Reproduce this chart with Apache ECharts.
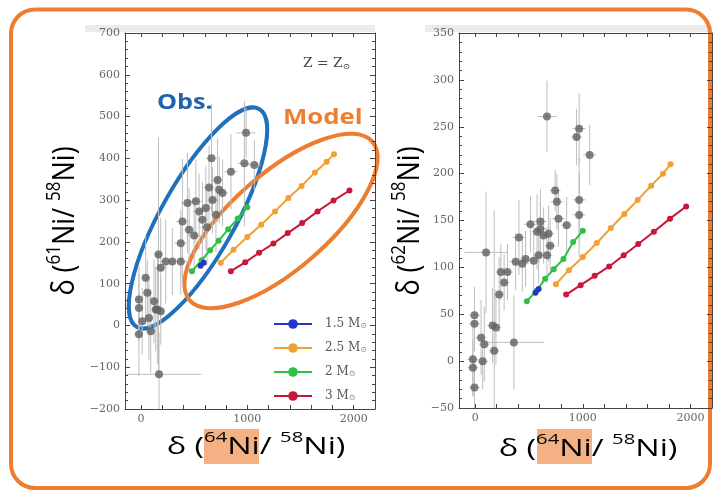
<!DOCTYPE html>
<html>
<head>
<meta charset="utf-8">
<script src="https://cdn.jsdelivr.net/npm/echarts@6/dist/echarts.min.js"></script>
<style>html,body{margin:0;padding:0;background:#fff;}#c,#f{width:718px;height:491px;position:absolute;left:0;top:0;}#f{pointer-events:none;}</style>
</head>
<body>
<div id="c"></div>
<div id="f"></div>
<script>
// ---- tick labels ----
const xLabelVals = [0, 1000, 2000];
const xTickVals = [0, 200, 400, 600, 800, 1000, 1200, 1400, 1600, 1800, 2000];

// ---- model tracks (x = delta 64Ni/58Ni) ----
const m15X = [560, 590];
const m15Y61 = [143, 150];
const m15Y62 = [73, 77];

const m25X = [750, 870, 1000, 1130, 1260, 1385, 1510, 1635, 1745, 1815];
const m25Y61 = [150, 181, 212, 241, 273, 305, 334, 366, 392, 410];
const m25Y62 = [82, 97, 111, 126, 142, 157, 172, 187, 200, 210];

const m2X = [480, 570, 650, 730, 820, 910, 1000];
const m2Y61 = [130, 156, 180, 203, 230, 256, 283];
const m2Y62 = [64, 75, 88, 98, 109, 127, 139];

const m3X = [845, 980, 1110, 1245, 1380, 1515, 1660, 1810, 1960];
const m3Y61 = [130, 151, 174, 196, 221, 245, 273, 299, 323];
const m3Y62 = [71, 81, 91, 101, 113, 125, 138, 152, 165];

// ---- observations: left panel (61Ni) ----
const obsX61  = [988, 972, 1066, 846, 663, 720, 736, 673, 767, 516, 437, 547, 610, 578, 390, 453, 374, 500, 620, 186, 233, 295, 374, 44, 60, -19, -19, 123, 139, 75, 186, 12, -19, 92, 170, 154, 165, 705, 640];
const obsY61  = [461, 388, 384, 368, 400, 348, 325, 300, 317, 297, 293, 273, 281, 253, 249, 229, 197, 215, 235, 138, 153, 153, 153, 114, 78, 62, 42, 58, 38, 18, 34, 10, -21, -14, -117, 38, 170, 265, 330];
const obsXE61 = [90, 60, 60, 60, 50, 50, 50, 60, 50, 60, 60, 60, 50, 50, 60, 50, 60, 60, 60, 60, 60, 60, 60, 40, 40, 40, 40, 40, 40, 40, 40, 40, 40, 40, 400, 40, 40, 50, 50];
const obsYE61 = [60, 150, 60, 90, 130, 100, 80, 80, 80, 100, 120, 90, 100, 90, 150, 100, 80, 90, 90, 120, 100, 80, 80, 100, 80, 80, 80, 100, 100, 100, 80, 80, 100, 100, 100, 130, 280, 90, 100];

// ---- observations: right panel (62Ni) ----
const obsX62  = [667, 966, 942, 1064, 743, 759, 966, 966, 774, 850, 606, 514, 606, 575, 682, 407, 636, 697, 544, 590, 667, 468, 438, 376, 101, 239, 300, 269, 223, -6, -6, 162, 193, 55, 85, 177, 360, -21, -21, 70, -6];
const obsY62  = [261, 248, 239, 220, 182, 170, 172, 156, 152, 145, 149, 146, 141, 138, 136, 132, 134, 123, 107, 113, 113, 109, 104, 106, 116, 95, 95, 84, 71, 49, 40, 38, 36, 25, 18, 11, 20, 2, -7, 0, -28];
const obsXE62 = [90, 60, 50, 60, 50, 60, 60, 60, 60, 50, 60, 60, 60, 50, 50, 60, 50, 50, 60, 50, 50, 60, 60, 60, 200, 50, 50, 50, 50, 50, 50, 50, 50, 50, 50, 50, 280, 50, 50, 50, 50];
const obsYE62 = [38, 38, 30, 32, 22, 30, 45, 45, 30, 30, 35, 30, 30, 40, 30, 40, 30, 30, 30, 30, 30, 30, 30, 30, 65, 30, 30, 30, 40, 30, 30, 40, 40, 40, 40, 150, 50, 40, 30, 30, 30];

function zip(a, b) { return a.map((v, i) => [v, b[i]]); }
function rows(x, y, xe, ye) { return x.map((v, i) => [v, y[i], xe[i], ye[i]]); }

const COL = { m15: '#2436c8', m25: '#f0a035', m2: '#30c048', m3: '#c8173a' };
const axisCol = '#444';
const gridsOpt = [
  { left: 125, top: 33, width: 250, height: 376 },
  { left: 459, top: 33, width: 253, height: 375 }
];

function errRender(params, api) {
  const x = api.value(0), y = api.value(1), ex = api.value(2), ey = api.value(3);
  const l = api.coord([x - ex, y]), r = api.coord([x + ex, y]);
  const t = api.coord([x, y + ey]), b = api.coord([x, y - ey]);
  const st = { stroke: '#bdbdbd', lineWidth: 1 };
  return { type: 'group', children: [
    { type: 'line', shape: { x1: l[0], y1: l[1], x2: r[0], y2: r[1] }, style: st },
    { type: 'line', shape: { x1: t[0], y1: t[1], x2: b[0], y2: b[1] }, style: st }
  ]};
}

// ---- main chart axes: labels only ----
function xAxMain(grid, pos) {
  return {
    gridIndex: grid, type: 'value', min: -150, max: 2200, position: pos,
    axisLine: { show: false, onZero: false }, axisTick: { show: false },
    axisLabel: pos === 'bottom' ? { show: true, customValues: xLabelVals, margin: 5, fontFamily: 'DejaVu Serif', fontSize: 11, color: '#666',
      formatter: function (v) { return String(v); } } : { show: false },
    splitLine: { show: false }
  };
}
function yAxMain(grid, pos, min, max, interval) {
  return {
    gridIndex: grid, type: 'value', min: min, max: max, interval: interval, position: pos,
    axisLine: { show: false, onZero: false }, axisTick: { show: false },
    axisLabel: pos === 'left' ? { show: true, margin: 5, fontFamily: 'DejaVu Serif', fontSize: 11, color: '#666',
      formatter: function (v) { return String(v).replace('-', '\u2212'); } } : { show: false },
    splitLine: { show: false }
  };
}
// ---- frame chart axes: lines and ticks ----
function xAxFrame(grid, pos) {
  return {
    gridIndex: grid, type: 'value', min: -150, max: 2200, position: pos,
    axisLine: { show: true, onZero: false, lineStyle: { color: axisCol, width: 1 } },
    axisTick: { show: true, inside: true, length: 4, customValues: xTickVals, lineStyle: { color: axisCol } },
    axisLabel: { show: false },
    splitLine: { show: false }
  };
}
function yAxFrame(grid, pos, min, max, interval) {
  return {
    gridIndex: grid, type: 'value', min: min, max: max, interval: interval, position: pos,
    axisLine: { show: true, onZero: false, lineStyle: { color: axisCol, width: 1 } },
    axisTick: { show: true, inside: true, length: 5, lineStyle: { color: axisCol } },
    minorTick: { show: true, splitNumber: 5, length: 3, lineStyle: { color: axisCol } },
    axisLabel: { show: false },
    splitLine: { show: false }
  };
}

function modelSeries(name, x, y, color, xi, yi) {
  return {
    name: name, type: 'line', xAxisIndex: xi, yAxisIndex: yi, data: zip(x, y),
    symbol: 'circle', symbolSize: 6, z: 5,
    lineStyle: { color: color, width: 2 }, itemStyle: { color: color }
  };
}

const series = [
  { type: 'custom', xAxisIndex: 0, yAxisIndex: 0, renderItem: errRender, data: rows(obsX61, obsY61, obsXE61, obsYE61), encode: { x: 0, y: 1 }, clip: true, silent: true, z: 1 },
  { type: 'scatter', xAxisIndex: 0, yAxisIndex: 0, data: zip(obsX61, obsY61), symbolSize: 8, itemStyle: { color: '#606060', opacity: 0.8 }, z: 2 },
  { type: 'custom', xAxisIndex: 2, yAxisIndex: 2, renderItem: errRender, data: rows(obsX62, obsY62, obsXE62, obsYE62), encode: { x: 0, y: 1 }, clip: true, silent: true, z: 1 },
  { type: 'scatter', xAxisIndex: 2, yAxisIndex: 2, data: zip(obsX62, obsY62), symbolSize: 8, itemStyle: { color: '#606060', opacity: 0.8 }, z: 2 },
  modelSeries('2.5 M', m25X, m25Y61, COL.m25, 0, 0),
  modelSeries('3 M', m3X, m3Y61, COL.m3, 0, 0),
  modelSeries('2 M', m2X, m2Y61, COL.m2, 0, 0),
  modelSeries('1.5 M', m15X, m15Y61, COL.m15, 0, 0),
  modelSeries('2.5 M', m25X, m25Y62, COL.m25, 2, 2),
  modelSeries('3 M', m3X, m3Y62, COL.m3, 2, 2),
  modelSeries('2 M', m2X, m2Y62, COL.m2, 2, 2),
  modelSeries('1.5 M', m15X, m15Y62, COL.m15, 2, 2)
];

const bigFont = 'Open Sans';
const richX = {
  m: { fontFamily: bigFont, fontSize: 24, lineHeight: 34, color: '#111' },
  s: { fontFamily: bigFont, fontSize: 15, lineHeight: 20, color: '#111', verticalAlign: 'top' }
};
const richY = {
  m: { fontFamily: bigFont, fontSize: 27, lineHeight: 36, color: '#111' },
  s: { fontFamily: bigFont, fontSize: 17, lineHeight: 21, color: '#111', verticalAlign: 'top' }
};

const graphic = [
  { type: 'rect', shape: { x: 85, y: 25, width: 290, height: 7 }, style: { fill: '#ebebeb' } },
  { type: 'rect', shape: { x: 425, y: 25, width: 287, height: 7 }, style: { fill: '#ebebeb' } },
  { type: 'rect', shape: { x: 204, y: 429, width: 55, height: 35 }, style: { fill: '#f4b183' } },
  { type: 'rect', shape: { x: 537, y: 429, width: 55, height: 35 }, style: { fill: '#f4b183' } },
  { type: 'text', x: 256, y: 447, scaleX: 1.35, style: { text: '{m|δ (}{s|64}{m|Ni/ }{s|58}{m|Ni)}', rich: richX, align: 'center', verticalAlign: 'middle' } },
  { type: 'text', x: 588, y: 449, scaleX: 1.35, style: { text: '{m|δ (}{s|64}{m|Ni/ }{s|58}{m|Ni)}', rich: richX, align: 'center', verticalAlign: 'middle' } },
  { type: 'text', x: 65, y: 221, rotation: Math.PI / 2, scaleY: 1.15, style: { text: '{m|δ (}{s|61}{m|Ni/ }{s|58}{m|Ni)}', rich: richY, align: 'center', verticalAlign: 'middle' } },
  { type: 'text', x: 410, y: 221, rotation: Math.PI / 2, scaleY: 1.15, style: { text: '{m|δ (}{s|62}{m|Ni/ }{s|58}{m|Ni)}', rich: richY, align: 'center', verticalAlign: 'middle' } },
  { type: 'text', x: 303, y: 64, scaleX: 1.15, style: { text: 'Z = Z{s|⊙}', fontFamily: 'DejaVu Serif', fontSize: 12, fill: '#444', verticalAlign: 'middle',
      rich: { s: { fontFamily: 'DejaVu Serif', fontSize: 8, fill: '#444', verticalAlign: 'bottom', padding: [6, 0, 0, 0] } } } },
  { type: 'ellipse', x: 198, y: 218, rotation: 60.7 * Math.PI / 180, shape: { cx: 0, cy: 0, rx: 125, ry: 37 }, style: { fill: 'none', stroke: '#1f70bd', lineWidth: 4 } },
  { type: 'ellipse', x: 281, y: 221, rotation: 41 * Math.PI / 180, shape: { cx: 0, cy: 0, rx: 121, ry: 48 }, style: { fill: 'none', stroke: '#ed7d31', lineWidth: 4 } },
  { type: 'text', x: 157, y: 103, scaleX: 1.2, style: { text: 'Obs.', fontFamily: bigFont, fontWeight: 'bold', fontSize: 21, fill: '#1f62b0', verticalAlign: 'middle' } },
  { type: 'text', x: 283, y: 118, scaleX: 1.17, style: { text: 'Model', fontFamily: bigFont, fontWeight: 'bold', fontSize: 22, fill: '#ed7d31', verticalAlign: 'middle' } },
  { type: 'rect', shape: { x: 11, y: 9.5, width: 699, height: 478.5, r: 24 }, style: { fill: 'none', stroke: '#ed7d31', lineWidth: 4 } }
];

const chart = echarts.init(document.getElementById('c'));
chart.setOption({
  animation: false,
  grid: gridsOpt,
  xAxis: [xAxMain(0, 'bottom'), xAxMain(0, 'top'), xAxMain(1, 'bottom'), xAxMain(1, 'top')],
  yAxis: [yAxMain(0, 'left', -200, 700, 100), yAxMain(0, 'right', -200, 700, 100), yAxMain(1, 'left', -50, 350, 50), yAxMain(1, 'right', -50, 350, 50)],
  legend: {
    data: ['1.5 M', '2.5 M', '2 M', '3 M'],
    orient: 'vertical', left: 268, top: 313,
    itemWidth: 38, itemHeight: 12, itemGap: 12,
    textStyle: { fontFamily: 'DejaVu Serif', fontSize: 12, color: '#555', lineHeight: 12, padding: [0, 0, 0, 8],
      rich: { s: { fontFamily: 'DejaVu Serif', fontSize: 8, color: '#888', verticalAlign: 'bottom', padding: [6, 0, 0, 0] } } },
    formatter: function (n) { return n + '{s|⊙}'; }
  },
  graphic: { elements: graphic },
  series: series
});

// ---- overlay instance drawing the plot frames and inward ticks ----
const frame = echarts.init(document.getElementById('f'));
frame.setOption({
  animation: false,
  grid: gridsOpt,
  xAxis: [xAxFrame(0, 'bottom'), xAxFrame(0, 'top'), xAxFrame(1, 'bottom'), xAxFrame(1, 'top')],
  yAxis: [yAxFrame(0, 'left', -200, 700, 100), yAxFrame(0, 'right', -200, 700, 100), yAxFrame(1, 'left', -50, 350, 50), yAxFrame(1, 'right', -50, 350, 50)],
  series: [
    { type: 'scatter', xAxisIndex: 0, yAxisIndex: 0, data: [], silent: true },
    { type: 'scatter', xAxisIndex: 2, yAxisIndex: 2, data: [], silent: true }
  ]
});
</script>
</body>
</html>
